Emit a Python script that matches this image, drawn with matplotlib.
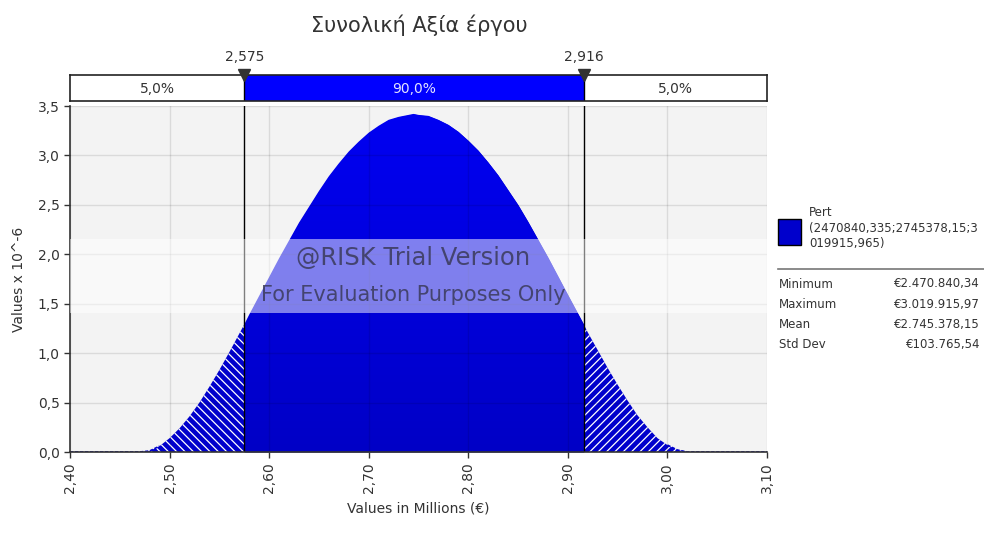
import matplotlib
matplotlib.use('Agg')
import matplotlib.pyplot as plt
import numpy as np
from matplotlib.colors import LinearSegmentedColormap
from matplotlib.patches import Rectangle
from matplotlib.lines import Line2D

# density of the Pert curve, values x 10^-6
x_vals = [2.40, 2.44, 2.47, 2.48, 2.49, 2.50, 2.51, 2.52, 2.53, 2.54, 2.55, 2.56,
          2.575, 2.58, 2.59, 2.60, 2.61, 2.62, 2.63, 2.64, 2.65, 2.66, 2.67, 2.68,
          2.69, 2.70, 2.71, 2.72, 2.73, 2.74, 2.745, 2.75, 2.76, 2.77, 2.78, 2.79,
          2.80, 2.81, 2.82, 2.83, 2.84, 2.85, 2.86, 2.87, 2.88, 2.89, 2.90, 2.916,
          2.92, 2.93, 2.94, 2.95, 2.96, 2.97, 2.98, 2.99, 3.00, 3.01, 3.02, 3.06,
          3.10]
dens_vals = [0.0, 0.0, 0.0, 0.01, 0.06, 0.14, 0.24, 0.36, 0.50, 0.66, 0.83, 1.01,
             1.29, 1.39, 1.58, 1.77, 1.96, 2.14, 2.32, 2.48, 2.64, 2.79, 2.92, 3.04,
             3.14, 3.23, 3.30, 3.36, 3.39, 3.41, 3.42, 3.41, 3.40, 3.36, 3.31, 3.24,
             3.15, 3.05, 2.93, 2.80, 2.65, 2.50, 2.33, 2.15, 1.97, 1.78, 1.59, 1.29,
             1.21, 1.03, 0.85, 0.68, 0.52, 0.37, 0.25, 0.14, 0.07, 0.02, 0.0, 0.0,
             0.0]

low_cut = 2.575
high_cut = 2.916
pct_labels = ['5,0%', '90,0%', '5,0%']

x_ticks = [2.40, 2.50, 2.60, 2.70, 2.80, 2.90, 3.00, 3.10]
y_ticks = [0.0, 0.5, 1.0, 1.5, 2.0, 2.5, 3.0, 3.5]

title = 'Συνολική Αξία έργου'
dist_label = 'Pert\n(2470840,335;2745378,15;3\n019915,965)'
stat_names = ['Minimum', 'Maximum', 'Mean', 'Std Dev']
stat_values = ['€2.470.840,34', '€3.019.915,97', '€2.745.378,15', '€103.765,54']

plt.rcParams['font.family'] = ['DejaVu Sans']
plt.rcParams['hatch.linewidth'] = 0.9

blue = '#0000CC'
text_col = '#333333'

x = np.array(x_vals)
y = np.array(dens_vals)

fig = plt.figure(figsize=(9.84, 5.34), dpi=100, facecolor='white')
W, H = 984.0, 534.0
ax = fig.add_axes([70 / W, 1 - 452 / H, 697 / W, 346 / H])
bar = fig.add_axes([70 / W, 1 - 101 / H, 697 / W, 26 / H])

ax.set_facecolor('#F3F3F3')

# tails, hatched
left = x <= low_cut
right = x >= high_cut
ax.fill_between(x[left], y[left], facecolor=blue, edgecolor='white',
                hatch='\\\\\\\\', linewidth=0, zorder=2)
ax.fill_between(x[right], y[right], facecolor=blue, edgecolor='white',
                hatch='////', linewidth=0, zorder=2)
ax.plot(x[x <= 2.49], y[x <= 2.49], color=blue, lw=1.2, ls=(0, (2, 1)), zorder=2)
ax.plot(x[x >= 3.0], y[x >= 3.0], color=blue, lw=1.2, ls=(0, (2, 1)), zorder=2)

# middle 90% with a soft vertical gradient
mid = (x >= low_cut) & (x <= high_cut)
poly = ax.fill_between(x[mid], y[mid], color=blue, linewidth=0, zorder=2)
cmap = LinearSegmentedColormap.from_list('bl', ['#0000C6', '#0000F2'])
grad = np.linspace(0, 1, 256).reshape(-1, 1)
im = ax.imshow(grad, cmap=cmap, origin='lower', aspect='auto',
               extent=[low_cut, high_cut, 0, max(dens_vals)], zorder=2.1)
im.set_clip_path(poly.get_paths()[0], transform=ax.transData)

# percentile lines
for c in (low_cut, high_cut):
    ax.axvline(c, color='black', lw=1.0, zorder=3)

ax.set_xlim(2.40, 3.10)
ax.set_ylim(0, 3.5)
ax.set_xticks(x_ticks)
ax.set_yticks(y_ticks)
ax.set_xticklabels([f'{t:.2f}'.replace('.', ',') for t in x_ticks], rotation=90)
ax.set_yticklabels([f'{t:.1f}'.replace('.', ',') for t in y_ticks])
ax.tick_params(labelsize=10, colors=text_col, length=4, width=1)
ax.tick_params(axis='both', color='#333333')
ax.grid(True, color='black', alpha=0.1, lw=1)
ax.set_axisbelow(False)
for s in ('top', 'right'):
    ax.spines[s].set_visible(False)
for s in ('left', 'bottom'):
    ax.spines[s].set_color('#333333')
    ax.spines[s].set_linewidth(1.2)
    ax.spines[s].set_zorder(4)

# watermark band
ax.axhspan(1.406, 2.155, color='white', alpha=0.5, lw=0, zorder=5)
ax.text(2.745, 1.96, '@RISK Trial Version', ha='center', va='center',
        fontsize=17.5, color='#3A3A5A', alpha=0.85, zorder=6)
ax.text(2.745, 1.59, 'For Evaluation Purposes Only', ha='center', va='center',
        fontsize=15, color='#3A3A5A', alpha=0.85, zorder=6)

ax.set_xlabel('Values in Millions (€)', fontsize=10, color=text_col, labelpad=6)
ax.set_ylabel('Values x 10^-6', fontsize=10, color=text_col, labelpad=8)

# percentile bar on top
bar.set_xlim(2.40, 3.10)
bar.set_ylim(0, 1)
bar.axvspan(low_cut, high_cut, color='#0000FF', lw=0)
bar.set_xticks([])
bar.set_yticks([])
for s in bar.spines.values():
    s.set_color('#222222')
    s.set_linewidth(1.2)
bar.text((2.40 + low_cut) / 2, 0.45, pct_labels[0], ha='center', va='center',
         fontsize=10, color=text_col)
bar.text((low_cut + high_cut) / 2, 0.45, pct_labels[1], ha='center', va='center',
         fontsize=10, color='#E4E4FF')
bar.text((high_cut + 3.10) / 2, 0.45, pct_labels[2], ha='center', va='center',
         fontsize=10, color=text_col)
for c in (low_cut, high_cut):
    bar.axvline(c, color='black', lw=1.0)
    bar.plot([c], [1.0], marker='v', color='#333333', markersize=9, clip_on=False,
             zorder=5)
    bar.annotate(f'{c:.3f}'.replace('.', ','), xy=(c, 1.0), xytext=(0, 13),
                 textcoords='offset points', ha='center', va='center',
                 fontsize=10, color=text_col, annotation_clip=False)

fig.text(419 / W, 1 - 25 / H, title, ha='center', va='center', fontsize=15,
         color=text_col)

# legend panel on the right
fig.patches.append(Rectangle((778 / W, 1 - 245 / H), 23 / W, 26 / H,
                             transform=fig.transFigure, facecolor=blue,
                             edgecolor='black', lw=1))
fig.text(809 / W, 1 - 206 / H, dist_label, ha='left', va='top', fontsize=8.5,
         color=text_col, linespacing=1.25)
fig.lines.append(Line2D([778 / W, 984 / W], [1 - 269 / H, 1 - 269 / H],
                        transform=fig.transFigure, color='#777777', lw=1.2))
for i, (nm, val) in enumerate(zip(stat_names, stat_values)):
    yy = 1 - (284 + i * 20.3) / H
    fig.text(779 / W, yy, nm, ha='left', va='center', fontsize=8.5, color=text_col)
    fig.text(980 / W, yy, val, ha='right', va='center', fontsize=8.5, color=text_col)

fig.savefig('out.png', dpi=100, facecolor='white')
